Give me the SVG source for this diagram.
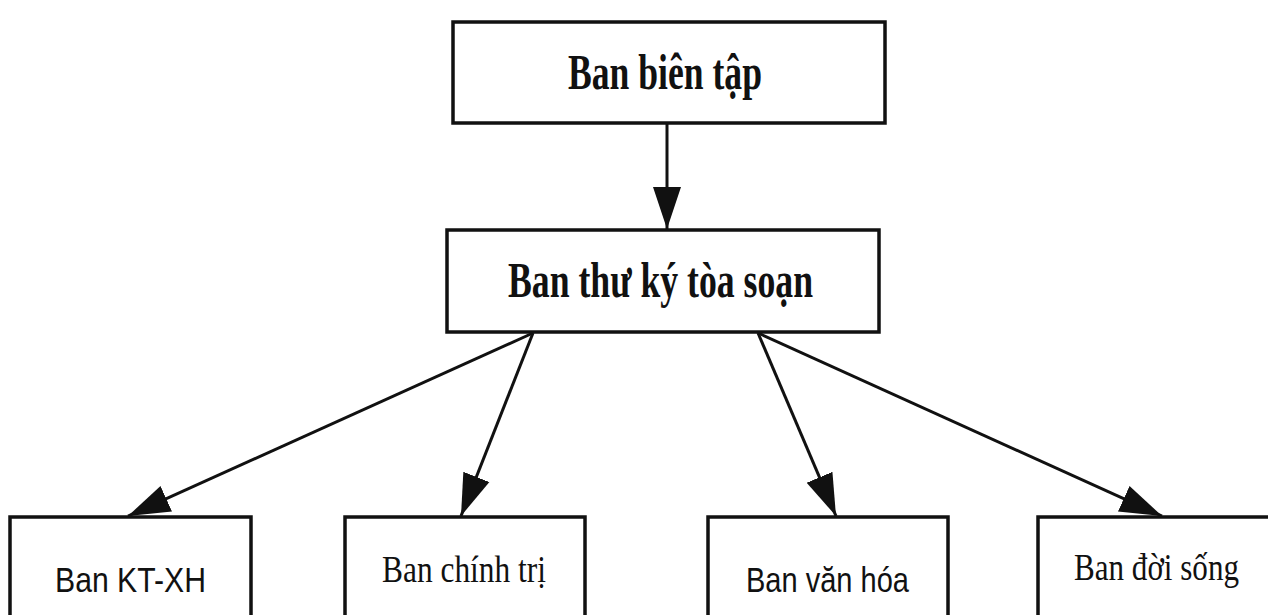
<svg xmlns="http://www.w3.org/2000/svg" width="1268" height="615" viewBox="0 0 1268 615">
<defs>
<style>
.box{fill:#fff;stroke:#111;stroke-width:3.5}
.edge{stroke:#111;stroke-width:3;fill:none}
.bold{font-family:"Liberation Serif","Times New Roman",serif;font-weight:bold;font-size:50px;fill:#111}
.serif{font-family:"Liberation Serif","Times New Roman",serif;font-size:37px;fill:#111}
.sans{font-family:"Liberation Sans",Arial,sans-serif;font-size:35px;fill:#111}
</style>
<marker id="arr" markerUnits="userSpaceOnUse" markerWidth="44" markerHeight="32" viewBox="0 0 44 32" refX="42" refY="16" orient="auto">
<path d="M0,2 L42,16 L0,30 Z" fill="#111"/>
</marker>
</defs>
<rect width="1268" height="615" fill="#fff"/>
<g id="connectors">
<line class="edge" x1="667" y1="124" x2="667" y2="229" marker-end="url(#arr)"/>
<line class="edge" x1="533" y1="333" x2="128" y2="516" marker-end="url(#arr)"/>
<line class="edge" x1="533" y1="333" x2="461" y2="516" marker-end="url(#arr)"/>
<line class="edge" x1="758" y1="333" x2="836" y2="516" marker-end="url(#arr)"/>
<line class="edge" x1="758" y1="333" x2="1162" y2="516" marker-end="url(#arr)"/>
</g>
<g id="ban-bien-tap">
<rect class="box" x="453" y="22" width="432" height="101"/>
<text class="bold" x="568" y="89" textLength="194" lengthAdjust="spacingAndGlyphs">Ban biên tập</text>
</g>
<g id="ban-thu-ky">
<rect class="box" x="447" y="230" width="432" height="102"/>
<text class="bold" x="508" y="297" textLength="305" lengthAdjust="spacingAndGlyphs">Ban thư ký tòa soạn</text>
</g>
<g id="ban-kt-xh">
<rect class="box" x="10" y="517" width="241" height="110"/>
<text class="sans" x="55" y="592" textLength="151" lengthAdjust="spacingAndGlyphs">Ban KT-XH</text>
</g>
<g id="ban-chinh-tri">
<rect class="box" x="345" y="517" width="240" height="110"/>
<text class="serif" x="382" y="582" textLength="164" lengthAdjust="spacingAndGlyphs">Ban chính trị</text>
</g>
<g id="ban-van-hoa">
<rect class="box" x="708" y="517" width="240" height="110"/>
<text class="sans" x="746" y="592" textLength="163" lengthAdjust="spacingAndGlyphs">Ban văn hóa</text>
</g>
<g id="ban-doi-song">
<rect class="box" x="1038" y="517" width="240" height="110"/>
<text class="serif" x="1074" y="580" textLength="165" lengthAdjust="spacingAndGlyphs">Ban đời sống</text>
</g>
</svg>
